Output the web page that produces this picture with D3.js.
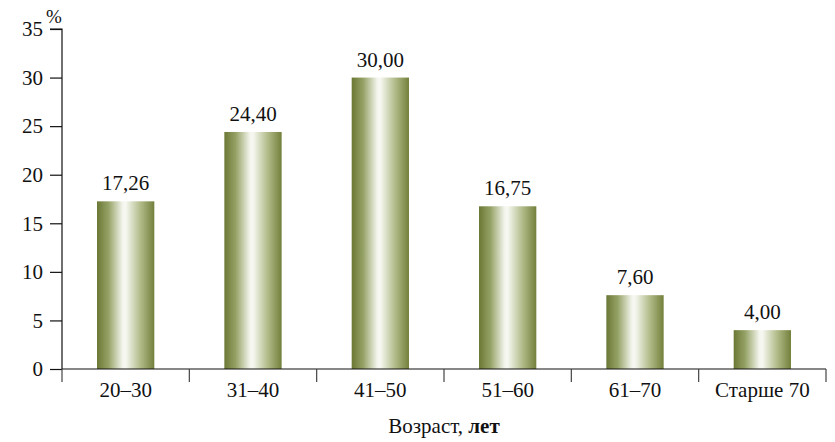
<!DOCTYPE html>
<html>
<head>
<meta charset="utf-8">
<script src="https://cdn.jsdelivr.net/npm/d3@7"></script>
</head>
<body>
<svg id="chart" width="835" height="442"></svg>
<script>
// Age groups and share of respondents, %
const categories = ["20–30", "31–40", "41–50", "51–60", "61–70", "Старше 70"];
const values = [17.26, 24.40, 30.00, 16.75, 7.60, 4.00];
const yTicks = [0, 5, 10, 15, 20, 25, 30, 35];

d3.select("body").style("margin", "0").style("background", "#fff");
d3.select("#chart").style("display", "block");

const FONT = '"Liberation Serif"';
const FS = 21;

const svg = d3.select("#chart");
const margin = { left: 62, right: 9, top: 29, bottom: 73 };
const W = 835, H = 442;

const x = d3.scaleBand()
  .domain(categories)
  .range([margin.left, W - margin.right])
  .paddingInner(0.55)
  .paddingOuter(0.275);

const y = d3.scaleLinear()
  .domain([0, 35])
  .range([H - margin.bottom, margin.top]);

// Horizontal olive–white–olive gradient for the bars
const defs = svg.append("defs");
const grad = defs.append("linearGradient")
  .attr("id", "barGrad")
  .attr("x1", "0%").attr("x2", "100%").attr("y1", "0%").attr("y2", "0%");
[
  [0, "#6a7834"],
  [0.2, "#95a266"],
  [0.45, "#f4f6ee"],
  [0.5, "#f6f8f1"],
  [0.75, "#b3bd8c"],
  [1, "#72803b"]
].forEach(([o, c]) => grad.append("stop").attr("offset", o).attr("stop-color", c));

// Bars
svg.append("g").selectAll("rect")
  .data(values)
  .join("rect")
  .attr("x", (d, i) => x(categories[i]))
  .attr("width", x.bandwidth())
  .attr("y", d => y(d))
  .attr("height", d => y(0) - y(d))
  .attr("fill", "url(#barGrad)");

// Value labels
const fmt = v => v.toFixed(2).replace(".", ",");
svg.selectAll("text.val")
  .data(values)
  .join("text")
  .attr("class", "val")
  .attr("x", (d, i) => x(categories[i]) + x.bandwidth() / 2)
  .attr("y", d => y(d) - 11)
  .attr("text-anchor", "middle")
  .attr("fill", "#111")
  .text(fmt);

// Y axis
const yAxis = d3.axisLeft(y).tickValues(yTicks).tickSize(12).tickPadding(7).tickFormat(d => d);
const gy = svg.append("g").attr("transform", `translate(${margin.left},0)`).call(yAxis);
gy.attr("font-family", null).attr("font-size", null);
gy.select(".domain").attr("stroke", "#111").attr("stroke-width", 1.2).attr("d", `M-12,${y(35)}H0V${y(0)}`);
gy.selectAll(".tick line").attr("stroke", "#111").attr("stroke-width", 1.2);
gy.selectAll(".tick text").attr("fill", "#111");

// Unit label
svg.append("text")
  .attr("class", "unit")
  .attr("x", margin.left - 16).attr("y", y(35) - 6)
  .attr("fill", "#111")
  .text("%");

// X axis line
svg.append("line")
  .attr("x1", margin.left).attr("x2", W - margin.right)
  .attr("y1", y(0)).attr("y2", y(0))
  .attr("stroke", "#111").attr("stroke-width", 1.2);

// Category separators below the axis
const bounds = [margin.left].concat(categories.map(c => x(c) - x.step() * x.paddingInner() / 2 + x.step()));
svg.append("g").selectAll("line")
  .data(bounds)
  .join("line")
  .attr("x1", d => d).attr("x2", d => d)
  .attr("y1", y(0)).attr("y2", y(0) + 13)
  .attr("stroke", "#444").attr("stroke-width", 1.2);

// Category labels
svg.selectAll("text.cat")
  .data(categories)
  .join("text")
  .attr("class", "cat")
  .attr("x", d => x(d) + x.bandwidth() / 2)
  .attr("y", y(0) + 28)
  .attr("text-anchor", "middle")
  .attr("fill", "#111")
  .text(d => d);

// Axis title
const title = svg.append("text")
  .attr("x", margin.left + (W - margin.right - margin.left) / 2)
  .attr("y", 433)
  .attr("text-anchor", "middle")
  .attr("fill", "#111");
title.append("tspan").text("Возраст, ");
title.append("tspan").style("font-weight", "bold").text("лет");

// Serif typeface for every label
svg.selectAll("text")
  .style("font-family", FONT)
  .style("font-size", FS + "px");
svg.select("text.unit").style("font-size", "19px");
</script>
</body>
</html>
